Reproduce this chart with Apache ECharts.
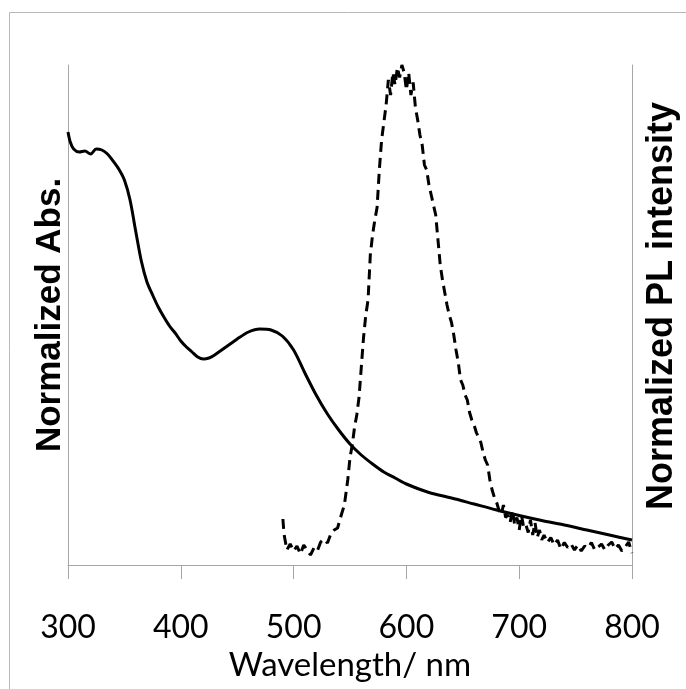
<!DOCTYPE html>
<html>
<head>
<meta charset="utf-8">
<script src="https://cdn.jsdelivr.net/npm/echarts@6/dist/echarts.min.js"></script>
<style>html,body{margin:0;padding:0;background:#fff}#c{width:686px;height:689px}</style>
</head>
<body>
<div id="c"></div>
<script>
const xTicks = [300, 400, 500, 600, 700, 800];
const absWavelength = [300,302,305,310,315,320,325,330,335,340,345,350,355,360,365,370,375,380,385,390,395,400,405,410,415,420,425,430,440,450,460,470,480,490,500,510,520,530,540,550,560,570,580,590,600,620,640,660,680,700,720,740,760,780,800];
const absValues = [0.866,0.846,0.832,0.826,0.828,0.822,0.832,0.830,0.822,0.808,0.792,0.770,0.730,0.668,0.608,0.566,0.540,0.516,0.496,0.478,0.464,0.448,0.436,0.426,0.416,0.412,0.414,0.420,0.436,0.452,0.466,0.472,0.470,0.458,0.430,0.384,0.340,0.302,0.270,0.242,0.220,0.202,0.186,0.174,0.162,0.145,0.134,0.122,0.110,0.099,0.089,0.080,0.070,0.060,0.050];
const plWavelength = [490.5,491.5,494,497,500,503,506,509,512,515,518,521,524,527,530,533,536,539,542,545,548,550,552,554,556,558,560,562,564,566,568,570,572,574,576,578,580,582,584,586,588,590,592,594,596,598,600,602,604,606,608,610,612,614,616,618,620,622,624,626,628,630,632,634,636,638,640,642,644,646,648,650,652,654,656,658,660,662,664,666,668,670,672,674,676,678,680,682,684,686,688,690,692,694,696,698,700,702,704,706,708,710,712,714,716,718,720,722,725,728,731,734,737,740,743,746,749,752,755,758,761,764,767,770,773,776,779,782,785,788,791,794,797,800];
const plValues = [0.092,0.062,0.030,0.042,0.028,0.038,0.022,0.040,0.030,0.020,0.034,0.028,0.046,0.052,0.044,0.062,0.070,0.074,0.098,0.120,0.170,0.215,0.240,0.275,0.300,0.335,0.395,0.455,0.500,0.530,0.620,0.660,0.690,0.715,0.790,0.850,0.885,0.920,0.970,0.940,0.985,0.960,0.995,0.975,1.000,0.985,0.950,0.985,0.940,0.965,0.915,0.890,0.860,0.840,0.800,0.790,0.760,0.740,0.720,0.700,0.650,0.600,0.570,0.545,0.520,0.500,0.485,0.460,0.430,0.405,0.370,0.360,0.340,0.330,0.305,0.290,0.280,0.265,0.255,0.245,0.225,0.210,0.200,0.170,0.150,0.135,0.125,0.110,0.100,0.120,0.095,0.100,0.085,0.110,0.080,0.095,0.070,0.100,0.075,0.080,0.065,0.090,0.060,0.085,0.055,0.070,0.050,0.060,0.045,0.055,0.040,0.050,0.032,0.045,0.035,0.042,0.030,0.040,0.028,0.038,0.034,0.045,0.030,0.036,0.042,0.030,0.040,0.046,0.032,0.040,0.028,0.036,0.046,0.024];

const absData = absWavelength.map((w, i) => [w, absValues[i]]);
const plData = plWavelength.map((w, i) => [w, plValues[i]]);

const chart = echarts.init(document.getElementById('c'), null, {renderer: 'canvas'});
const axisGrey = '#a6a6a6';
chart.setOption({
  animation: false,
  backgroundColor: '#ffffff',
  graphic: [{
    type: 'rect', z: -10, silent: true,
    shape: {x: 9.5, y: 12.5, width: 720, height: 720},
    style: {fill: 'none', stroke: '#b8b8b8', lineWidth: 1}
  }],
  grid: {left: 68, right: 54, top: 65, bottom: 124, containLabel: false, outerBoundsMode: 'none'},
  xAxis: {
    type: 'value', min: xTicks[0], max: xTicks[xTicks.length - 1], interval: 100,
    axisLine: {show: true, lineStyle: {color: axisGrey, width: 1}},
    axisTick: {show: true, inside: false, length: 14, lineStyle: {color: axisGrey, width: 1}},
    splitLine: {show: false},
    axisLabel: {color: '#000', fontFamily: 'Lato', fontSize: 32, margin: 47},
    name: 'Wavelength/ nm', nameLocation: 'middle', nameGap: 82,
    nameTextStyle: {color: '#000', fontFamily: 'Lato', fontSize: 33}
  },
  yAxis: [{
    type: 'value', min: 0, max: 1, position: 'left',
    axisLine: {show: true, lineStyle: {color: axisGrey, width: 1}},
    axisTick: {show: false}, axisLabel: {show: false}, splitLine: {show: false},
    name: 'Normalized Abs.', nameLocation: 'middle', nameGap: 0, nameRotate: 90,
    nameTextStyle: {color: '#000', fontFamily: 'Liberation Sans', fontWeight: 'bold', fontSize: 35}
  }, {
    type: 'value', min: 0, max: 1, position: 'right',
    axisLine: {show: true, lineStyle: {color: axisGrey, width: 1}},
    axisTick: {show: false}, axisLabel: {show: false}, splitLine: {show: false},
    name: 'Normalized PL intensity', nameLocation: 'middle', nameGap: 12, nameRotate: 90,
    nameTextStyle: {color: '#000', fontFamily: 'Liberation Sans', fontWeight: 'bold', fontSize: 36, padding: [0, 0, 0, 18]}
  }],
  series: [{
    type: 'line', yAxisIndex: 0, data: absData, showSymbol: false, smooth: 0.3,
    lineStyle: {color: '#000', width: 3}
  }, {
    type: 'line', yAxisIndex: 1, data: plData, showSymbol: false, smooth: false,
    lineStyle: {color: '#000', width: 3, type: [10, 6]}
  }]
});
</script>
</body>
</html>
